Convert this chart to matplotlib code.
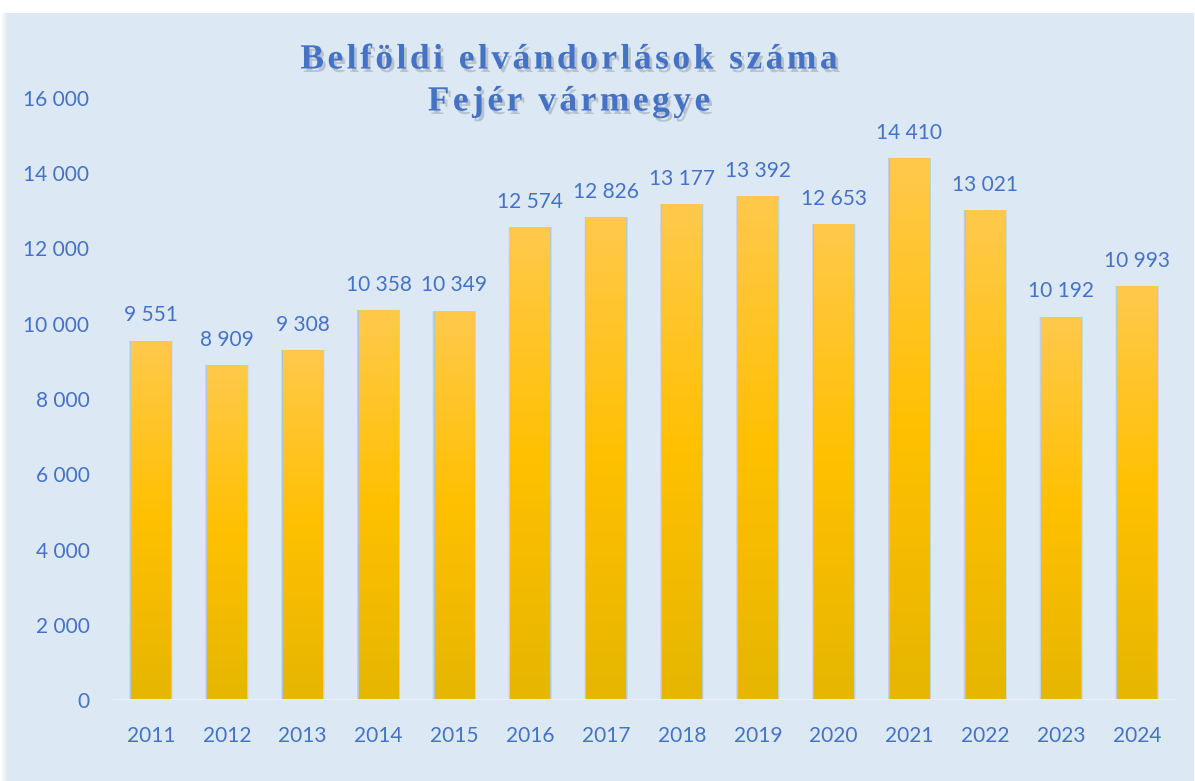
import matplotlib.pyplot as plt
import matplotlib.patheffects as pe
from matplotlib.patches import Rectangle
from matplotlib.colors import LinearSegmentedColormap
from matplotlib.textpath import TextToPath
from matplotlib.font_manager import FontProperties
import numpy as np

years = ["2011", "2012", "2013", "2014", "2015", "2016", "2017",
         "2018", "2019", "2020", "2021", "2022", "2023", "2024"]
values = [9551, 8909, 9308, 10358, 10349, 12574, 12826,
          13177, 13392, 12653, 14410, 13021, 10192, 10993]
yticks = [0, 2000, 4000, 6000, 8000, 10000, 12000, 14000, 16000]
title_lines = ["Belföldi elvándorlások száma", "Fejér vármegye"]

blue = "#4472c4"
panel = "#dde8f5"
W, H = 1195, 781

fig = plt.figure(figsize=(W / 100, H / 100), dpi=100, facecolor="white")

# background panel with a soft shadow on the left
for i in range(8):
    fig.patches.append(Rectangle(((8 - i) / W, 0), 1 / W, 1 - 13 / H,
                                 transform=fig.transFigure, zorder=-2,
                                 color="#9aa0a8", alpha=0.28 * (1 - i / 8), lw=0))
fig.patches.append(Rectangle((8 / W, 0), 1186 / W, 1 - 13 / H, zorder=-1,
                             transform=fig.transFigure, color=panel, lw=0))

ax = fig.add_axes([113 / W, 1 - 700 / H, 1062 / W, (700 - 98) / H])
ax.set_facecolor("none")
x = np.arange(len(years))
bw = 0.52

# bar shadows
for k in range(5):
    ax.bar(x, values, width=bw + 0.012 * (k + 1), color="#6c7a8c",
           alpha=0.08, lw=0, zorder=1)

bars = ax.bar(x, values, width=bw, color="#ffc000", lw=0, zorder=2)
cmap = LinearSegmentedColormap.from_list(
    "bar", [(0, "#e6b600"), (0.5, "#ffc000"), (1, "#ffc94c")])
grad = np.linspace(0, 1, 256).reshape(-1, 1)
for b in bars:
    im = ax.imshow(grad, cmap=cmap, origin="lower", aspect="auto",
                   extent=[b.get_x(), b.get_x() + b.get_width(), 0, b.get_height()],
                   zorder=3)
    im.set_clip_path(b)

for xi, v in zip(x, values):
    lab = f"{v:,}".replace(",", " ")
    ax.annotate(lab, (xi, v), xytext=(0, 11), textcoords="offset points",
                ha="center", va="bottom", color=blue, fontsize=15,
                family="Lato")

ax.set_xlim(-0.5, len(years) - 0.5)
ax.set_ylim(0, 16000)
ax.set_xticks(x)
ax.set_xticklabels(years)
ax.set_yticks(yticks)
ax.set_yticklabels([f"{t:,}".replace(",", " ") for t in yticks])
ax.tick_params(length=0, colors=blue, labelsize=15)
ax.tick_params(axis="y", pad=17)
ax.tick_params(axis="x", pad=19)
for lab in ax.get_xticklabels() + ax.get_yticklabels():
    lab.set_family("Lato")
for s in ax.spines.values():
    s.set_visible(False)
ax.axhline(0, color="#eef2f8", lw=2, zorder=4)

# title with letter spacing and shadow
fp = FontProperties(family="Liberation Serif", weight="bold", size=25.5)
ttp = TextToPath()
spacing = 3.5  # px
effects = [pe.SimplePatchShadow(offset=(2, -2.5), shadow_rgbFace="#8d95a0", alpha=0.45),
           pe.Normal()]
for line, yc in zip(title_lines, [60, 102]):
    widths = [ttp.get_text_width_height_descent(c, fp, ismath=False)[0] * 100 / 72
              for c in line]
    total = sum(widths) + spacing * (len(line) - 1)
    cx = 569 - total / 2
    for c, w in zip(line, widths):
        fig.text(cx / W, 1 - yc / H, c, fontproperties=fp, color=blue,
                 ha="left", va="center", path_effects=effects)
        cx += w + spacing

fig.savefig("out.png", dpi=100, facecolor="white")
